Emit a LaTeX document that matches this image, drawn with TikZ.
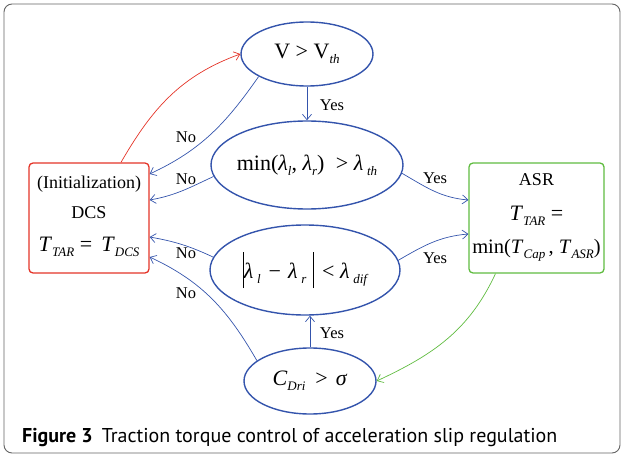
\documentclass[tikz,border=0pt]{standalone}
\usepackage{fontspec}
\setmainfont{Liberation Serif}
\newfontfamily\capfont{PT Sans}
\usetikzlibrary{shapes.geometric,arrows.meta}

\definecolor{flowblue}{RGB}{52,84,172}
\definecolor{initred}{RGB}{228,52,40}
\definecolor{asrgreen}{RGB}{96,188,64}
\definecolor{framegray}{RGB}{100,100,100}

\newcommand\lsub[1]{\raisebox{-5pt}{\fontsize{13}{13}\selectfont\itshape #1}}
\newcommand\tallbar{\rule[-10pt]{0.9pt}{36pt}}
\newcommand\bigtext{\fontsize{22}{26}\selectfont}

\tikzset{
  cond/.style={ellipse, draw=flowblue, line width=1.4pt, inner sep=-40pt, font=\bigtext},
  statebox/.style={rectangle, rounded corners=4pt, line width=1.3pt, inner sep=0pt,
    minimum height=110pt},
  flow/.style={draw=flowblue, line width=0.7pt, -{Straight Barb[length=5.5pt,width=9pt]}},
  lbl/.style={font=\fontsize{16.5}{16.5}\selectfont, inner sep=0pt},
  boxtext/.style={inner sep=0pt, font=\fontsize{18}{18}\selectfont},
}

\begin{document}
\begin{tikzpicture}[x=1pt,y=1pt]
    \useasboundingbox (0,0) rectangle (624,456);
    \draw[framegray, line width=0.9pt, rounded corners=8pt] (4,3) rectangle (620,452);

    % conditions
    \node[cond, minimum width=132pt, minimum height=64pt] (vth) at (307,402)
        {V > V\lsub{th}};
    \node[cond, minimum width=192pt, minimum height=88pt] (lmin) at (307,291)
        {min(\textit{λ}\lsub{l}, \textit{λ}\lsub{r})\hspace{6pt} > \textit{λ}\,\lsub{th}};
    \node[cond, minimum width=190pt, minimum height=90pt] (ldif) at (305,186)
        {\tallbar\textit{λ}\,\lsub{l}\hspace{8pt}−\hspace{7pt}\textit{λ}\,\lsub{r}\hspace{7pt}\tallbar\hspace{8pt}< \textit{λ}\,\lsub{dif}};
    \node[cond, minimum width=132pt, minimum height=66pt] (cdri) at (310,75)
        {\textit{C}\lsub{Dri}\hspace{10pt}>\hspace{8pt}\textit{σ}};

    % states
    \node[statebox, draw=initred, minimum width=120pt] (dcs) at (89,238) {};
    \node[boxtext] (dcsinit) at (89,272) {(Initialization)};
    \node[boxtext] (dcsname) at (89,243) {DCS};
    \node[boxtext, font=\bigtext] (dcseq) at (89,209)
        {\textit{T}\lsub{TAR} = \,\textit{T}\lsub{DCS}};

    \node[statebox, draw=asrgreen, minimum width=135pt] (asr) at (536.5,238) {};
    \node[boxtext] (asrname) at (536.5,276) {ASR};
    \node[boxtext, font=\bigtext] (asreq) at (536.5,240) {\textit{T}\lsub{TAR} =};
    \node[boxtext, font=\fontsize{20.5}{24}\selectfont] (asrmin) at (536.5,206)
        {min(\textit{T}\lsub{Cap}\,, \textit{T}\lsub{ASR})};

    % connectors
    \draw[flow] (vth.south) -- (lmin.north);
    \draw[flow] (vth.205) to[out=235,in=25] ([yshift=44pt]dcs.east);
    \draw[flow] (lmin.187) to[out=205,in=10] ([yshift=18pt]dcs.east);
    \draw[flow] (ldif.172) to[out=155,in=350] ([yshift=-19pt]dcs.east);
    \draw[flow] (cdri.159) to[out=120,in=335] ([yshift=-39pt]dcs.east);
    \draw[flow] (lmin.355) to[out=-30,in=175] ([yshift=18pt]asr.west);
    \draw[flow] (ldif.6) to[out=30,in=185] ([yshift=-16pt]asr.west);
    \draw[flow] (cdri.north) -- (cdri.north |- ldif.south);
    \draw[flow, draw=initred] ([xshift=32pt]dcs.north) to[out=60,in=200] (vth.west);
    \draw[flow, draw=asrgreen] ([xshift=-41pt]asr.south) to[out=245,in=25] (cdri.east);

    % labels
    \node[lbl] (yes1) at (332,351) {Yes};
    \node[lbl] (no1) at (186,319) {No};
    \node[lbl] (no2) at (186,277) {No};
    \node[lbl] (no3) at (186,203) {No};
    \node[lbl] (no4) at (186,163) {No};
    \node[lbl] (yes2) at (435,278) {Yes};
    \node[lbl] (yes3) at (435,198) {Yes};
    \node[lbl] (yes4) at (332,123) {Yes};

    \node[anchor=base west, inner sep=0pt, font=\capfont\fontsize{20}{20}\selectfont] (caption) at (22,14)
        {\textbf{Figure 3}\hspace{0.45em}Traction torque control of acceleration slip regulation};
\end{tikzpicture}
\end{document}
